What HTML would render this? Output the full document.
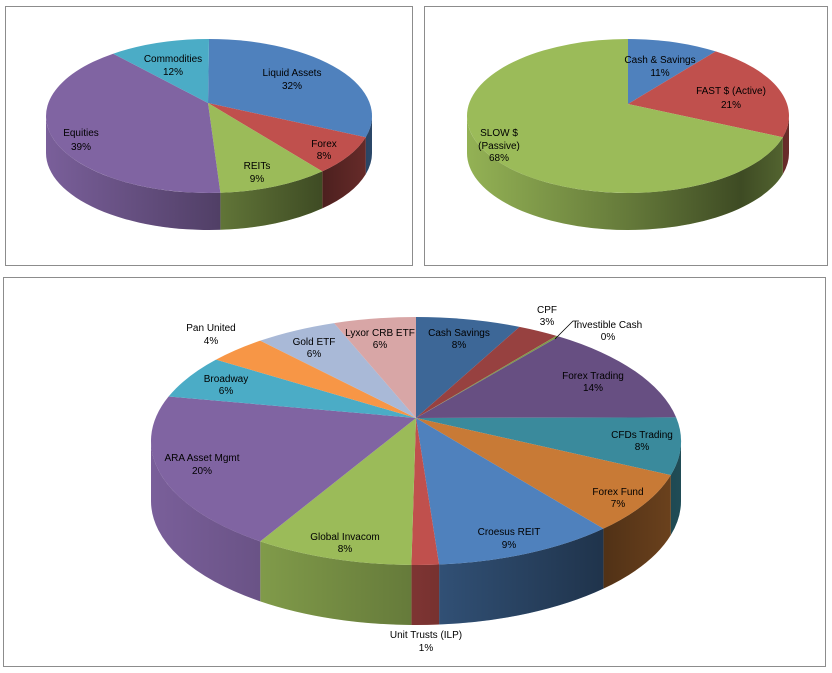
<!DOCTYPE html>
<html><head><meta charset="utf-8"><style>
html,body{margin:0;padding:0;background:#fff;width:832px;height:673px;overflow:hidden}
svg{display:block}
text{font-family:"Liberation Sans",sans-serif;font-size:10px;fill:#000;text-anchor:middle}
</style></head><body>
<svg id="s" width="832" height="673" xmlns="http://www.w3.org/2000/svg">
<defs>
<linearGradient id="g1" gradientUnits="userSpaceOnUse" x1="46" y1="0" x2="372" y2="0">
<stop offset="0" stop-color="#000" stop-opacity="0.05"/><stop offset="0.5" stop-color="#000" stop-opacity="0.35"/><stop offset="0.85" stop-color="#000" stop-opacity="0.6"/><stop offset="1" stop-color="#000" stop-opacity="0.45"/></linearGradient>
<linearGradient id="g2" gradientUnits="userSpaceOnUse" x1="467" y1="0" x2="789" y2="0">
<stop offset="0" stop-color="#000" stop-opacity="0.05"/><stop offset="0.5" stop-color="#000" stop-opacity="0.35"/><stop offset="0.85" stop-color="#000" stop-opacity="0.6"/><stop offset="1" stop-color="#000" stop-opacity="0.45"/></linearGradient>
<linearGradient id="g3" gradientUnits="userSpaceOnUse" x1="151" y1="0" x2="681" y2="0">
<stop offset="0" stop-color="#000" stop-opacity="0.05"/><stop offset="0.5" stop-color="#000" stop-opacity="0.35"/><stop offset="0.85" stop-color="#000" stop-opacity="0.6"/><stop offset="1" stop-color="#000" stop-opacity="0.45"/></linearGradient>
</defs>
<rect x="5.5" y="6.5" width="407" height="259" fill="none" stroke="#8c8c8c"/>
<rect x="424.5" y="6.5" width="403" height="259" fill="none" stroke="#8c8c8c"/>
<rect x="3.5" y="277.5" width="822" height="389" fill="none" stroke="#8c8c8c"/>
<g id="pies"></g>
<g id="labels">
<text x="292" y="76">Liquid Assets</text><text x="292" y="89">32%</text>
<text x="324" y="147">Forex</text><text x="324" y="159">8%</text>
<text x="257" y="169">REITs</text><text x="257" y="182">9%</text>
<text x="81" y="136">Equities</text><text x="81" y="150">39%</text>
<text x="173" y="62">Commodities</text><text x="173" y="75">12%</text>
<text x="660" y="63">Cash &amp; Savings</text><text x="660" y="76">11%</text>
<text x="731" y="94">FAST $ (Active)</text><text x="731" y="108">21%</text>
<text x="499" y="136">SLOW $</text><text x="499" y="149">(Passive)</text><text x="499" y="161">68%</text>
<text x="459" y="336">Cash Savings</text><text x="459" y="348">8%</text>
<text x="547" y="313">CPF</text><text x="547" y="325">3%</text>
<text x="608" y="328">Investible Cash</text><text x="608" y="340">0%</text>
<text x="593" y="379">Forex Trading</text><text x="593" y="391">14%</text>
<text x="642" y="438">CFDs Trading</text><text x="642" y="450">8%</text>
<text x="618" y="495">Forex Fund</text><text x="618" y="507">7%</text>
<text x="509" y="535">Croesus REIT</text><text x="509" y="548">9%</text>
<text x="426" y="638">Unit Trusts (ILP)</text><text x="426" y="651">1%</text>
<text x="345" y="540">Global Invacom</text><text x="345" y="552">8%</text>
<text x="202" y="461">ARA Asset Mgmt</text><text x="202" y="474">20%</text>
<text x="226" y="382">Broadway</text><text x="226" y="394">6%</text>
<text x="211" y="331">Pan United</text><text x="211" y="344">4%</text>
<text x="314" y="345">Gold ETF</text><text x="314" y="357">6%</text>
<text x="380" y="336">Lyxor CRB ETF</text><text x="380" y="348">6%</text>
</g>
<polyline points="555,339 573,321 579,321" fill="none" stroke="#000" stroke-width="0.8"/>
</svg>
<script>
var charts=[
{cx:209,cy:116,rx:163,ry:77,d:37,ax:208,ay:103,g:'g1',s:[
[270,376,'#4f81bd'],[16,46,'#c0504d'],[46,86,'#9bbb59'],[86,234,'#8064a2'],[234,270,'#4bacc6']]},
{cx:628,cy:116,rx:161,ry:77,d:37,ax:628,ay:104,g:'g2',s:[
[270,303,'#4f81bd'],[303,376,'#c0504d'],[16,270,'#9bbb59']]},
{cx:416,cy:441,rx:265,ry:124,d:60,ax:416,ay:418,g:'g3',s:[
[270,293,'#3d6797'],[293,302,'#974140'],[302,302.6,'#7f9a4a'],[302.6,349,'#674f82'],[349,376,'#3a8a9c'],[376,405,'#c87a36'],[405,445,'#4f81bd'],[445,451,'#c0504d'],[451,486,'#9bbb59'],[486,561,'#8064a2'],[561,581,'#4bacc6'],[581,594,'#f79646'],[594,612,'#a9b9d7'],[612,630,'#d8a6a6']]}
];
var NS='http://www.w3.org/2000/svg',G=document.getElementById('pies');
function P(c,t,dy){var r=t*Math.PI/180;return [(c.cx+c.rx*Math.cos(r)).toFixed(2),(c.cy+c.ry*Math.sin(r)+(dy||0)).toFixed(2)];}
function add(d,f,op){var p=document.createElementNS(NS,'path');p.setAttribute('d',d);p.setAttribute('fill',f);if(op)p.setAttribute('fill-opacity',op);G.appendChild(p);}
charts.forEach(function(c){
 c.s.forEach(function(s){
  var a=s[0],b=s[1];if(b<a)b+=360;
  // front visible range: 0..180 and 360..540
  [[0,180],[360,540]].forEach(function(r){
   var lo=Math.max(a,r[0]),hi=Math.min(b,r[1]);
   if(hi>lo){
    var p0=P(c,lo),p1=P(c,hi),q1=P(c,hi,c.d),q0=P(c,lo,c.d);
    var L=(hi-lo)>180?1:0;
    var d='M'+p0+' A'+c.rx+' '+c.ry+' 0 '+L+' 1 '+p1+' L'+q1+' A'+c.rx+' '+c.ry+' 0 '+L+' 0 '+q0+' Z';
    add(d,s[2]);add(d,'url(#'+c.g+')');
   }
  });
 });
 c.s.forEach(function(s){
  var a=s[0],b=s[1];if(b<a)b+=360;
  var p0=P(c,a),p1=P(c,b),L=(b-a)>180?1:0;
  add('M'+c.ax+','+c.ay+' L'+p0+' A'+c.rx+' '+c.ry+' 0 '+L+' 1 '+p1+' Z',s[2]);
 });
});
</script>
</body></html>
